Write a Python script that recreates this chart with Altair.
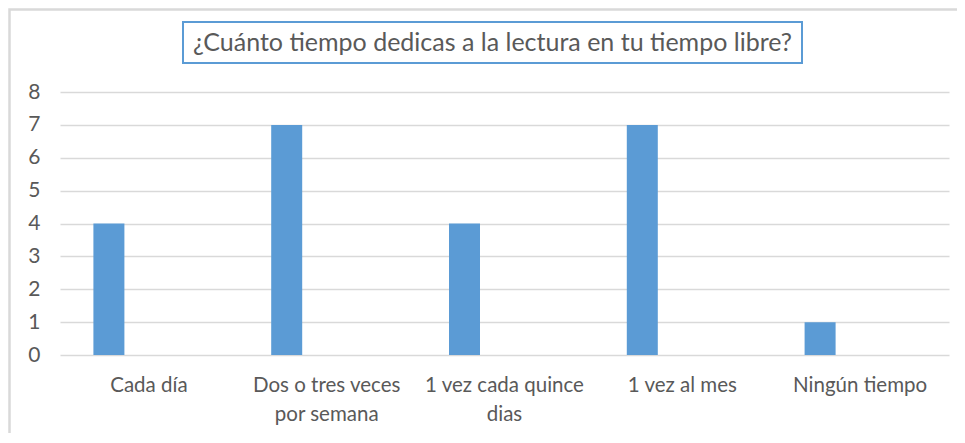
import altair as alt
import pandas as pd

categories = ["Cada día", "Dos o tres veces\npor semana", "1 vez cada quince\ndias", "1 vez al mes", "Ningún tiempo"]
values = [4, 7, 4, 7, 1]
title_text = "¿Cuánto tiempo dedicas a la lectura en tu tiempo libre?"
y_ticks = [0, 1, 2, 3, 4, 5, 6, 7, 8]

df = pd.DataFrame({"cat": categories, "val": values})

FONT = "Lato"
TXT = "#595959"
GRID = "#d9d9d9"
BLUE = "#5b9bd5"

bars = alt.Chart(df).mark_bar(color=BLUE, width=31, xOffset=-40).encode(
    x=alt.X("cat:N", sort=categories, title=None,
            scale=alt.Scale(paddingInner=0, paddingOuter=0),
            axis=alt.Axis(labelAngle=0, labelExpr="split(datum.label, '\\n')",
                          labelFont=FONT, labelFontSize=20.5, labelColor=TXT,
                          labelLineHeight=29, labelPadding=20, labelLimit=300,
                          ticks=False, domain=False, grid=False)),
    y=alt.Y("val:Q", title=None,
            scale=alt.Scale(domain=[0, 8], nice=False),
            axis=alt.Axis(values=y_ticks, labelFont=FONT, labelFontSize=21,
                          labelColor=TXT, labelPadding=20, ticks=False,
                          domain=False, grid=True, gridColor=GRID, gridWidth=1.3)),
)

frame = alt.Chart(pd.DataFrame({"a": [0]})).mark_rect(
    fill=None, stroke=GRID, strokeWidth=2.5
).encode(x=alt.value(-50.5), x2=alt.value(1000), y=alt.value(-82.5), y2=alt.value(500))

box = alt.Chart(pd.DataFrame({"a": [0]})).mark_rect(
    fill="white", stroke=BLUE, strokeWidth=2
).encode(x=alt.value(123), x2=alt.value(742), y=alt.value(-70), y2=alt.value(-29))

title = alt.Chart(pd.DataFrame({"t": [title_text]})).mark_text(
    font=FONT, fontSize=25, color=TXT, align="center", baseline="middle"
).encode(text="t:N", x=alt.value(432.5), y=alt.value(-49))

chart = alt.layer(frame, box, title, bars).properties(
    width=889, height=263,
    autosize=alt.AutoSizeParams(type="none"),
    padding={"left": 52, "top": 84, "right": 8, "bottom": 78},
).configure_view(stroke=None)

chart.save("out.html", embed_options={"renderer": "svg", "actions": False})
